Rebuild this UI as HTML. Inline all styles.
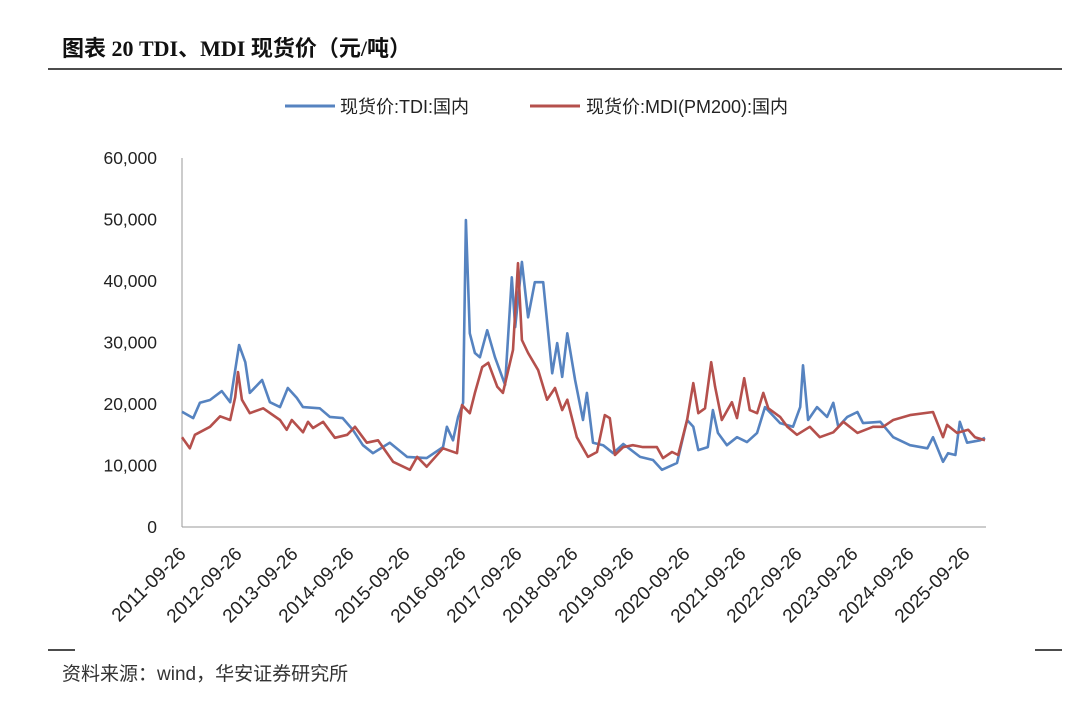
<!DOCTYPE html>
<html><head><meta charset="utf-8"><style>
html,body{margin:0;padding:0;background:#fff;}
body{width:1080px;height:702px;overflow:hidden;position:relative;font-family:"Liberation Sans","Noto Sans CJK SC",sans-serif;}
</style></head><body>
<svg id="c" width="1080" height="702" viewBox="0 0 1080 702" xmlns="http://www.w3.org/2000/svg">
<text x="62" y="56" font-size="22" font-weight="bold" font-family="Liberation Serif, Noto Sans CJK SC, sans-serif" fill="#111">图表 20 TDI、MDI 现货价（元/吨）</text>
<line x1="48" y1="69" x2="1062" y2="69" stroke="#111" stroke-width="1.5"/>
<g>
<g><line x1="285" y1="106" x2="335" y2="106" stroke="#5683C0" stroke-width="3"/><text x="340" y="113" font-size="18" fill="#222">现货价:TDI:国内</text></g>
<g><line x1="530" y1="106" x2="580" y2="106" stroke="#B5504C" stroke-width="3"/><text x="586" y="113" font-size="18" fill="#222">现货价:MDI(PM200):国内</text></g>
</g>
<g id="axes"></g>
<g id="series"></g>
<line x1="48" y1="650" x2="75" y2="650" stroke="#111" stroke-width="1.5"/>
<line x1="1035" y1="650" x2="1062" y2="650" stroke="#111" stroke-width="1.5"/>
<text x="62" y="680" font-size="19" fill="#333">资料来源：wind，华安证券研究所</text>
</svg>
<script>
const yTicks=[0,10000,20000,30000,40000,50000,60000];
const yTickLabels=["0","10,000","20,000","30,000","40,000","50,000","60,000"];
const xTickYears=[2011,2012,2013,2014,2015,2016,2017,2018,2019,2020,2021,2022,2023,2024,2025];
const xTickLabels=["2011-09-26","2012-09-26","2013-09-26","2014-09-26","2015-09-26","2016-09-26","2017-09-26","2018-09-26","2019-09-26","2020-09-26","2021-09-26","2022-09-26","2023-09-26","2024-09-26","2025-09-26"];
const tdiDates=[2011.73,2011.93,2012.05,2012.23,2012.44,2012.59,2012.75,2012.86,2012.94,2013.16,2013.3,2013.48,2013.62,2013.78,2013.89,2014.19,2014.37,2014.6,2014.78,2014.96,2015.14,2015.44,2015.75,2016.1,2016.39,2016.46,2016.57,2016.66,2016.75,2016.8,2016.87,2016.96,2017.05,2017.18,2017.32,2017.5,2017.62,2017.68,2017.8,2017.91,2018.03,2018.18,2018.34,2018.43,2018.52,2018.61,2018.75,2018.89,2018.96,2019.07,2019.25,2019.43,2019.61,2019.91,2020.14,2020.3,2020.57,2020.75,2020.86,2020.95,2021.12,2021.21,2021.3,2021.46,2021.64,2021.82,2022.0,2022.14,2022.41,2022.64,2022.77,2022.82,2022.91,2023.07,2023.25,2023.36,2023.45,2023.61,2023.79,2023.89,2024.2,2024.43,2024.73,2025.04,2025.14,2025.32,2025.41,2025.54,2025.62,2025.75,2025.98,2026.07];
const tdiValues=[18750,17700,20200,20650,22100,20300,29600,26800,21800,23900,20300,19500,22600,21000,19500,19300,17900,17700,15800,13300,12000,13700,11400,11200,13000,16300,14100,17900,20200,49900,31500,28300,27600,32000,27600,23100,40600,32500,43100,34100,39800,39800,25000,29900,24400,31500,23900,17400,21800,13700,13300,12000,13500,11400,10900,9300,10400,17400,16300,12500,13000,19000,15300,13300,14600,13800,15300,19500,16900,16300,19500,26300,17400,19500,17900,20200,16300,17900,18700,16900,17100,14600,13300,12800,14600,10600,12000,11700,17100,13700,14100,14500];
const mdiDates=[2011.73,2011.87,2011.96,2012.23,2012.41,2012.59,2012.68,2012.73,2012.8,2012.94,2013.18,2013.48,2013.6,2013.69,2013.89,2013.98,2014.07,2014.25,2014.46,2014.68,2014.82,2015.03,2015.23,2015.5,2015.8,2015.93,2016.1,2016.39,2016.64,2016.73,2016.87,2016.96,2017.09,2017.2,2017.36,2017.46,2017.64,2017.73,2017.8,2017.91,2018.09,2018.25,2018.39,2018.52,2018.61,2018.78,2018.98,2019.14,2019.28,2019.37,2019.46,2019.61,2019.78,2019.96,2020.21,2020.32,2020.48,2020.59,2020.75,2020.86,2020.95,2021.07,2021.18,2021.25,2021.37,2021.55,2021.64,2021.77,2021.87,2022.0,2022.11,2022.2,2022.41,2022.54,2022.71,2022.94,2023.12,2023.36,2023.54,2023.79,2024.07,2024.25,2024.43,2024.73,2025.14,2025.32,2025.39,2025.57,2025.77,2025.89,2026.07];
const mdiValues=[14600,12800,15000,16300,18000,17400,21100,25200,20700,18500,19300,17400,15800,17400,15400,17100,16100,17100,14500,15000,16300,13700,14100,10600,9300,11400,9800,12800,12000,19800,18500,21800,26000,26700,22800,21800,28800,42900,30400,28300,25500,20700,22600,19000,20700,14600,11400,12200,18200,17700,11700,13000,13300,13000,13000,11200,12200,11700,17400,23400,18500,19300,26800,22800,17400,20300,17700,24200,19000,18500,21800,19300,17900,16300,15000,16300,14600,15400,17100,15300,16300,16300,17400,18200,18700,14600,16600,15300,15800,14600,14100];

const NS="http://www.w3.org/2000/svg";
const X0=182,X1=986,Y0=527,YT=158,T0=2011.73,PXY=56;
function xs(t){return X0+(t-T0)*PXY;}
function ys(v){return Y0-v/60000*(Y0-YT);}
const axes=document.getElementById('axes');
function mk(tag,attrs,parent){const e=document.createElementNS(NS,tag);for(const k in attrs)e.setAttribute(k,attrs[k]);parent.appendChild(e);return e;}
const ya=mk('line',{x1:X0,y1:YT,x2:X0,y2:Y0,stroke:'#999','stroke-width':1},axes);


const xa=mk('line',{x1:X0,y1:Y0,x2:X1,y2:Y0,stroke:'#999','stroke-width':1},axes);


yTicks.forEach((v,i)=>{
  const t=mk('text',{x:157,y:ys(v)+6,'text-anchor':'end','font-size':17.5,fill:'#222'},axes);
  t.textContent=yTickLabels[i];
  
  
});
xTickYears.forEach((yr,i)=>{
  const x=xs(yr+0.73);
  const bx=x+5,by=Y0+28;
  const t=mk('text',{x:bx,y:by,'text-anchor':'end','font-size':19,fill:'#222',transform:`rotate(-45 ${bx} ${by})`},axes);
  t.textContent=xTickLabels[i];
  
  
});
const ser=document.getElementById('series');
function line(d,v,color,name){
  const p=d.map((t,i)=>(i?'L':'M')+xs(t).toFixed(1)+','+ys(v[i]).toFixed(1)).join(' ');
  const el=mk('path',{d:p,fill:'none',stroke:color,'stroke-width':2.6,'stroke-linejoin':'round'},ser);
  
  
}
line(tdiDates,tdiValues,'#5683C0','tdi-line');
line(mdiDates,mdiValues,'#B5504C','mdi-line');
</script>
</body></html>
